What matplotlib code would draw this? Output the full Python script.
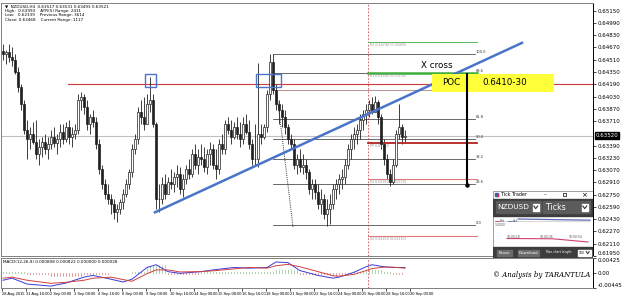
import numpy as np
import matplotlib
matplotlib.use("Agg")
import matplotlib.pyplot as plt
from matplotlib.patches import Rectangle
from matplotlib.transforms import blended_transform_factory

# NZDUSD H4 candles (open = previous close)
first_open = 0.6462
closes = [0.6458, 0.6461, 0.6454, 0.6451, 0.6435, 0.6415, 0.6393, 0.6360, 0.6347, 0.6354,
          0.6344, 0.6328, 0.6337, 0.6344, 0.6334, 0.6341, 0.6350, 0.6343, 0.6347, 0.6357,
          0.6347, 0.6363, 0.6350, 0.6354, 0.6360, 0.6399, 0.6402, 0.6389, 0.6367, 0.6376,
          0.6370, 0.6341, 0.6308, 0.6289, 0.6276, 0.6269, 0.6263, 0.6253, 0.6256, 0.6265,
          0.6276, 0.6289, 0.6305, 0.6334, 0.6347, 0.6383, 0.6376, 0.6367, 0.6393, 0.6399,
          0.6367, 0.6269, 0.6269, 0.6289, 0.6276, 0.6292, 0.6289, 0.6298, 0.6302, 0.6282,
          0.6295, 0.6308, 0.6302, 0.6328, 0.6314, 0.6324, 0.6321, 0.6311, 0.6328, 0.6334,
          0.6314, 0.6308, 0.6341, 0.6334, 0.6367, 0.6360, 0.6350, 0.6363, 0.6354, 0.6347,
          0.6367, 0.6357, 0.6341, 0.6321, 0.6321, 0.6354, 0.6350, 0.6363, 0.6406, 0.6448,
          0.6412, 0.6393, 0.6386, 0.6376, 0.6363, 0.6347, 0.6341, 0.6314, 0.6321, 0.6311,
          0.6314, 0.6305, 0.6282, 0.6289, 0.6279, 0.6263, 0.6269, 0.6250, 0.6256, 0.6263,
          0.6282, 0.6289, 0.6295, 0.6298, 0.6314, 0.6334, 0.6347, 0.6354, 0.6360, 0.6373,
          0.6380, 0.6386, 0.6393, 0.6383, 0.6396, 0.6376, 0.6341, 0.6321, 0.6302, 0.6292,
          0.6314, 0.6354, 0.6363, 0.6350, 0.6352]
highs = [0.6471, 0.6464, 0.6471, 0.6467, 0.6458, 0.6441, 0.6419, 0.6399, 0.6373, 0.6363,
         0.6370, 0.6373, 0.6347, 0.6350, 0.6354, 0.6350, 0.6360, 0.6363, 0.6354, 0.6367,
         0.6367, 0.6370, 0.6373, 0.6363, 0.6367, 0.6406, 0.6409, 0.6406, 0.6399, 0.6380,
         0.6386, 0.6376, 0.6347, 0.6314, 0.6295, 0.6289, 0.6276, 0.6269, 0.6263, 0.6269,
         0.6282, 0.6295, 0.6308, 0.6341, 0.6354, 0.6389, 0.6399, 0.6402, 0.6406, 0.6428,
         0.6406, 0.6370, 0.6289, 0.6298, 0.6302, 0.6298, 0.6308, 0.6305, 0.6314, 0.6311,
         0.6302, 0.6314, 0.6321, 0.6334, 0.6341, 0.6334, 0.6341, 0.6337, 0.6334, 0.6344,
         0.6341, 0.6334, 0.6347, 0.6354, 0.6373, 0.6376, 0.6373, 0.6370, 0.6376, 0.6370,
         0.6376, 0.6380, 0.6373, 0.6347, 0.6367, 0.6447, 0.6367, 0.6367, 0.6412, 0.6459,
         0.6458, 0.6419, 0.6399, 0.6393, 0.6386, 0.6367, 0.6354, 0.6347, 0.6328, 0.6334,
         0.6328, 0.6321, 0.6308, 0.6295, 0.6295, 0.6289, 0.6282, 0.6276, 0.6269, 0.6276,
         0.6289, 0.6295, 0.6302, 0.6308, 0.6321, 0.6341, 0.6354, 0.6363, 0.6367, 0.6380,
         0.6386, 0.6393, 0.6399, 0.6402, 0.6404, 0.6399, 0.6380, 0.6347, 0.6328, 0.6308,
         0.6321, 0.6360, 0.6393, 0.6367, 0.6360]
lows = [0.6451, 0.6445, 0.6448, 0.6443, 0.6432, 0.6409, 0.6386, 0.6354, 0.6321, 0.6334,
        0.6341, 0.6321, 0.6314, 0.6324, 0.6328, 0.6321, 0.6334, 0.6337, 0.6328, 0.6337,
        0.6341, 0.6344, 0.6341, 0.6337, 0.6347, 0.6354, 0.6386, 0.6380, 0.6360, 0.6354,
        0.6363, 0.6334, 0.6302, 0.6282, 0.6269, 0.6263, 0.6250, 0.6243, 0.6240, 0.6250,
        0.6256, 0.6272, 0.6282, 0.6298, 0.6328, 0.6341, 0.6367, 0.6360, 0.6367, 0.6383,
        0.6363, 0.6256, 0.6253, 0.6263, 0.6269, 0.6276, 0.6282, 0.6279, 0.6285, 0.6276,
        0.6272, 0.6289, 0.6295, 0.6298, 0.6308, 0.6302, 0.6314, 0.6305, 0.6302, 0.6314,
        0.6308, 0.6295, 0.6302, 0.6328, 0.6328, 0.6354, 0.6341, 0.6347, 0.6347, 0.6337,
        0.6341, 0.6354, 0.6334, 0.6314, 0.6314, 0.6311, 0.6341, 0.6347, 0.6357, 0.6399,
        0.6406, 0.6386, 0.6367, 0.6363, 0.6354, 0.6341, 0.6334, 0.6308, 0.6302, 0.6305,
        0.6302, 0.6295, 0.6276, 0.6269, 0.6269, 0.6256, 0.6250, 0.6243, 0.6234, 0.6237,
        0.6256, 0.6269, 0.6276, 0.6282, 0.6289, 0.6308, 0.6321, 0.6334, 0.6341, 0.6347,
        0.6360, 0.6367, 0.6376, 0.6380, 0.6383, 0.6367, 0.6334, 0.6314, 0.6295, 0.6286,
        0.6289, 0.6311, 0.6347, 0.6341, 0.6344]

date_labels = ["28 Aug 2015", "31 Aug 16:00", "2 Sep 00:00", "3 Sep 08:00", "4 Sep 16:00",
               "8 Sep 00:00", "9 Sep 08:00", "10 Sep 16:00", "14 Sep 00:00", "15 Sep 08:00",
               "16 Sep 16:00", "18 Sep 00:00", "21 Sep 08:00", "22 Sep 16:00", "24 Sep 00:00",
               "25 Sep 08:00", "28 Sep 16:00", "30 Sep 00:00"]

# MACD panel, sampled every few bars
macd_idx = [0, 3, 8, 16, 21, 27, 30, 36, 40, 43, 48, 51, 55, 59, 66, 71, 77, 82, 88, 91,
            95, 99, 105, 110, 112, 117, 121, 123, 127, 130, 134]
macd_main = [-0.0022, -0.0016, -0.0033, -0.0039, -0.0030, -0.0013, -0.0008, -0.0019, -0.0027, -0.0019,
             0.0015, 0.0023, 0.0003, -0.0002, 0.0003, 0.0009, 0.0015, 0.0013, 0.0015, 0.0031,
             0.0029, 0.0006, -0.0008, -0.0016, -0.0013, 0.0001, 0.0017, 0.0023, 0.0017, 0.0015, 0.0015]
macd_signal = [-0.0016, -0.0013, -0.0022, -0.0031, -0.0028, -0.0022, -0.0016, -0.0013, -0.0020, -0.0025,
               -0.0003, 0.0008, 0.0008, 0.0002, 0.0003, 0.0006, 0.0011, 0.0015, 0.0013, 0.0020,
               0.0024, 0.0017, 0.0003, -0.0009, -0.0010, -0.0005, 0.0006, 0.0012, 0.0016, 0.0016, 0.0013]
macd_hist = [0.0006, 0.0004, -0.0008, -0.0010, -0.0009, -0.0005, -0.0003, -0.0002, -0.0001, 0.0004,
             0.0020, 0.0022, -0.0004, -0.0004, 0.0002, 0.0003, 0.0003, 0.0001, 0.0006, 0.0012,
             0.0010, -0.0006, -0.0008, -0.0009, -0.0008, 0.0004, 0.0010, 0.0012, 0.0006, -0.0004, -0.0002]

# drawn levels
poc_low, poc_high = 0.6410, 0.6430
resistance = 0.6420
fib_low, fib_high = 0.6236, 0.6459
fib_levels = [0.0, 23.6, 38.2, 50.0, 61.8, 78.6, 88.6, 100.0]
pivots = [("R2 0.64740 (0.00405)", 0.6474, "#5cb85c", 0.7),
          ("R1 0.64340 (0.00105)", 0.6434, "#3fae3f", 1.8),
          ("PP 0.63420", 0.6342, "#b22222", 1.3),
          ("S1 0.62950 (0.00570)", 0.6295, "#e07a7a", 0.8),
          ("S2 0.62210 (0.01310)", 0.6221, "#e07a7a", 0.8)]

W, H = 625, 297


def px_box(x0, y0, x1, y1):
    return [x0 / W, 1 - y1 / H, (x1 - x0) / W, (y1 - y0) / H]


def bar_x(px):
    return (px - 3) / 3.0


fig = plt.figure(figsize=(6.25, 2.97), dpi=100)
ax = fig.add_axes(px_box(1, 3, 593, 256))
mx = fig.add_axes(px_box(1, 258, 593, 288), sharex=ax)

c = np.array(closes)
o = np.array([first_open] + closes[:-1])
x = np.arange(len(c))
up = c >= o

ax.vlines(x, lows, highs, color="#202020", lw=0.6, zorder=3)
ax.bar(x[up], np.maximum(c - o, 0.00004)[up], bottom=o[up], width=0.62,
       color="white", edgecolor="#202020", lw=0.5, zorder=4)
ax.bar(x[~up], (o - c)[~up], bottom=c[~up], width=0.62,
       color="#202020", edgecolor="#202020", lw=0.5, zorder=4)

ax.set_xlim(bar_x(1), bar_x(593))
ax.set_ylim(0.6195, 0.6525)

# bid line and resistance
ax.axhline(closes[-1], color="#c0c0c0", lw=0.8, zorder=1)
ax.plot([bar_x(68), bar_x(593)], [resistance, resistance], color="#d03a3a", lw=0.8, zorder=2)

# trend line
ax.plot([bar_x(155), bar_x(522)], [0.6252, 0.6473], color="#4a74c9", lw=1.8, zorder=5)

# blue boxes on the highs
for x0, x1 in [(145, 156), (256, 281)]:
    ax.add_patch(Rectangle((bar_x(x0), 0.6416), bar_x(x1) - bar_x(x0), 0.0016,
                           fill=False, edgecolor="#4a74c9", lw=1.0, zorder=6))

# fibonacci retracement
fx0, fx1 = bar_x(273), bar_x(475)
for lv in fib_levels:
    p = fib_low + (fib_high - fib_low) * lv / 100
    col = "#a88080" if lv == 78.6 else "#505050"
    ax.plot([fx0, fx1], [p, p], color=col, lw=0.6, zorder=2)
    ax.text(fx1 + 0.3, p, f"{lv:.1f}", fontsize=2.6, va="bottom", ha="left", color="#303030")
ax.plot([bar_x(277), bar_x(293)], [0.6406, 0.6233], color="#303030", lw=0.7, ls=(0, (1, 1.2)), zorder=2)

# daily pivot lines
for name, p, col, lw in pivots:
    ax.plot([bar_x(368), bar_x(477)], [p, p], color=col, lw=lw, zorder=3)
    ax.text(bar_x(370), p - 0.00012, name, fontsize=2.3, va="top", ha="left", color="#909090")

# session separator
for a in (ax, mx):
    a.axvline(bar_x(368), color="#d04848", lw=0.6, ls=(0, (2, 2)), zorder=1)

# POC box, arrow and notes
ax.add_patch(Rectangle((bar_x(432), poc_low - 0.0001), bar_x(554) - bar_x(432), poc_high - poc_low + 0.0004,
                       color="#ffff3a", zorder=6, lw=0))
ax.plot([bar_x(467), bar_x(467)], [0.6433, 0.6287], color="black", lw=1.5, zorder=7)
ax.plot([bar_x(467)], [0.6287], marker="o", ms=2.2, color="black", zorder=7)
ax.text(bar_x(451), 0.6421, "POC", fontsize=6.3, ha="center", va="center", zorder=8)
ax.text(bar_x(482), 0.6421, "0.6410-30", fontsize=6.3, ha="left", va="center", zorder=8)
ax.text(bar_x(437), 0.6443, "X cross", fontsize=6.3, ha="center", va="center", zorder=8)

# header info
hdr = ["\u25bc  NZDUSD,H4  0.63517 0.63531 0.63493 0.63521",
       "High:  0.63993    ATR(5) Range: 2411",
       "Low:   0.62339    Previous Range: 3614",
       "Close: 0.63468    Current Range: 1117"]
for k, line in enumerate(hdr):
    ax.text(bar_x(5), 0.6525 - 0.00016 - k * 0.00058, line, fontsize=3.0, va="top", ha="left")

# price axis
ticks = [round(0.6195 + 0.0016 * k, 5) for k in range(21)]
ticks = [t for t in ticks if abs(t - closes[-1]) > 0.0005]
ax.yaxis.tick_right()
ax.set_yticks(ticks)
ax.set_yticklabels([f"{t:.5f}" for t in ticks])
ax.tick_params(axis="y", labelsize=4, length=2, width=0.5, pad=1.5)
ax.get_yticklabels()[0].set_va("bottom")
ax.tick_params(axis="x", bottom=False, labelbottom=False)
tr = blended_transform_factory(ax.transAxes, ax.transData)
ax.text(1.004, closes[-1], f"{closes[-1]:.5f}", transform=tr, fontsize=4, color="white",
        va="center", ha="left", bbox=dict(facecolor="black", edgecolor="black", pad=0.6))
for s in ax.spines.values():
    s.set_color("#808080")
    s.set_linewidth(0.7)
ax.spines["right"].set_color("black")

# MACD panel
mi = np.array(macd_idx)
hv = np.array(macd_hist)
seg = np.searchsorted(mi, x, side="right") - 1
hbar = hv[seg]
mx.vlines(x[hbar > 0], 0, hbar[hbar > 0], color="#5aa05a", lw=0.7, ls=(0, (1, 1)))
mx.vlines(x[hbar < 0], 0, hbar[hbar < 0], color="#cc4444", lw=0.7, ls=(0, (1, 1)))
mx.plot(macd_idx, macd_main, color="#3a3ad8", lw=0.7)
mx.plot(macd_idx, macd_signal, color="#d04040", lw=0.7)
mx.set_ylim(-0.00445, 0.00425)
mx.yaxis.tick_right()
mx.set_yticks([0.00425, 0.0, -0.00445])
mx.set_yticklabels(["0.00425", "0.00", "-0.00445"])
mx.tick_params(axis="y", labelsize=4, length=2, width=0.5, pad=1.5)
ylab = mx.get_yticklabels()
ylab[0].set_va("top")
ylab[2].set_va("bottom")
mx.text(0.004, 0.93, "MACD(12,26,9) 0.000808 0.000822 0.000000 0.000028", transform=mx.transAxes,
        fontsize=3.0, va="top", ha="left")
xt = [-1 / 3 + 8 * k for k in range(len(date_labels))]
mx.set_xticks(xt)
mx.set_xticklabels(date_labels, ha="left", family="Liberation Sans")
mx.tick_params(axis="x", labelsize=2.9, length=2, width=0.5, pad=0.8)
for s in mx.spines.values():
    s.set_color("#808080")
    s.set_linewidth(0.7)
mx.spines["right"].set_color("black")

# Tick Trader window
tt = fig.add_axes(px_box(493, 191, 593, 258), zorder=10)
tt.set_xlim(0, 100)
tt.set_ylim(67, 0)
tt.axis("off")
tt.add_patch(Rectangle((0, 0), 100, 67, facecolor="white", edgecolor="#909090", lw=0.6))
tt.add_patch(Rectangle((2.5, 1.8), 3, 3.5, color="#3060c0"))
tt.add_patch(Rectangle((3.8, 3.2), 1.7, 2.1, color="#d03030"))
tt.text(8, 3.8, "Tick Trader", fontsize=3.4, va="center", ha="left")
tt.text(52, 3.8, "\u2013", fontsize=4, va="center", ha="center")
tt.add_patch(Rectangle((70, 2), 3.2, 3.4, fill=False, edgecolor="black", lw=0.5))
tt.text(91, 3.8, "\u00d7", fontsize=5, va="center", ha="center")
tt.add_patch(Rectangle((0, 7.5), 100, 17.5, color="#3d3d3d"))
tt.add_patch(Rectangle((3.5, 10), 44, 12, color="#5b5b5b"))
tt.text(4.5, 16.3, "NZDUSD", fontsize=5.3, color="white", va="center", ha="left")
tt.add_patch(Rectangle((39.5, 12.5), 6.5, 7.5, color="white"))
tt.plot([40.8, 42.7, 44.7], [15, 17.6, 15], color="#303030", lw=0.8)
tt.add_patch(Rectangle((50, 10), 46.5, 12, color="#5b5b5b"))
tt.text(53, 16.3, "Ticks", fontsize=5.6, color="white", va="center", ha="left")
tt.add_patch(Rectangle((88.5, 12.5), 6.5, 7.5, color="white"))
tt.plot([89.8, 91.7, 93.7], [15, 17.6, 15], color="#303030", lw=0.8)
tt.plot([25, 97], [28, 29.2], color="#5d6cb5", lw=0.9)
tt.plot([4, 97], [30.5, 30.8], color="#c8c8c8", lw=0.5)
tt.plot([2, 6], [30, 30], color="#d04070", lw=0.6)
tt.text(6.5, 30, "Bid", fontsize=2.2, va="center", ha="left", color="#505050")
tt.plot([15, 19], [30, 30], color="#5d6cb5", lw=0.6)
tt.text(19.5, 30, "Ask", fontsize=2.2, va="center", ha="left", color="#505050")
tt.text(2, 34.5, "1.0000", fontsize=2.2, va="center", ha="left", color="#505050")
tt.plot([14, 60, 95], [47.5, 47.8, 51], color="#d04070", lw=0.8)
for tx, lab in [(20, "10:00:18"), (54, "10:00:36"), (83, "10:00:54")]:
    tt.text(tx, 45.5, lab, fontsize=2.2, va="center", ha="center", color="#505050")
tt.add_patch(Rectangle((0, 56), 100, 11, color="#3d3d3d"))
tt.add_patch(Rectangle((4, 58.5), 15, 6, color="#6b6b6b"))
tt.text(11.5, 61.5, "Pause", fontsize=2.8, color="white", va="center", ha="center")
tt.add_patch(Rectangle((25, 58.5), 21, 6, color="#6b6b6b"))
tt.text(35.5, 61.5, "Download", fontsize=2.8, color="white", va="center", ha="center")
tt.text(53, 61.5, "Max chart length:", fontsize=2.2, color="white", va="center", ha="left")
tt.add_patch(Rectangle((85, 58.5), 6.5, 6, color="white"))
tt.text(88.2, 61.5, "100", fontsize=2.2, va="center", ha="center")
tt.add_patch(Rectangle((92, 58.5), 5.5, 6, color="white"))
tt.plot([93.2, 94.7, 96.2], [60.5, 62.8, 60.5], color="#303030", lw=0.7)

# signature
fig.text(493 / W, 1 - 275 / H, "\u00a9 Analysis by TARANTULA", fontsize=5.0, fontstyle="italic",
         family="DejaVu Serif", va="center", ha="left", zorder=12)

fig.savefig("out.png", dpi=100)
